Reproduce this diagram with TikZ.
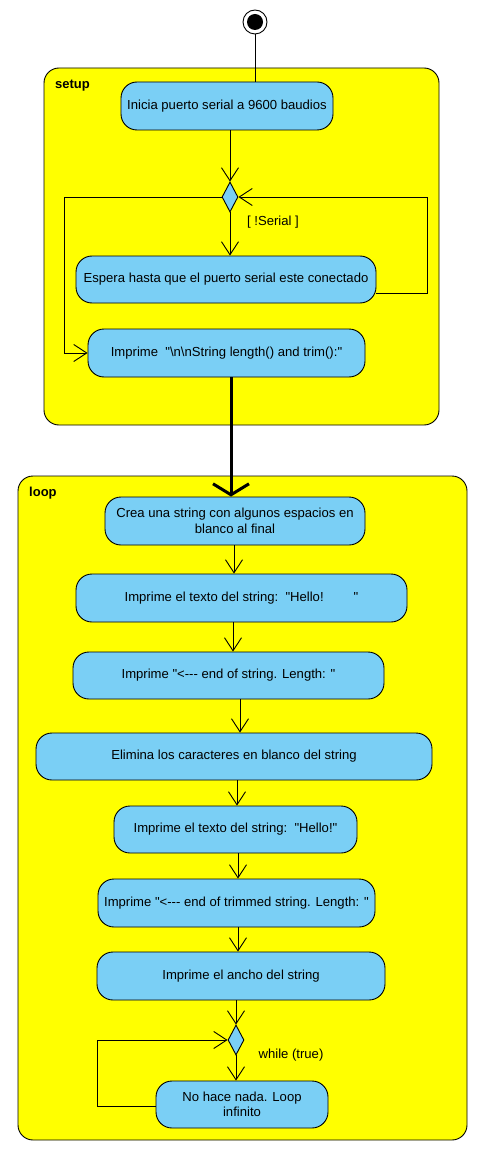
\documentclass[tikz,border=0pt]{standalone}
\usepackage{fontspec}
\setmainfont{Liberation Sans}[Ligatures=TeXOff]
\usetikzlibrary{arrows.meta,shapes.geometric}
\definecolor{actblue}{RGB}{122,207,245}
\definecolor{contyellow}{RGB}{255,255,0}
\tikzset{
  container/.style={draw=black, fill=contyellow, rounded corners=15pt, line width=0.9pt, inner sep=0pt},
  action/.style={draw=black, fill=actblue, rounded corners=16pt, line width=0.9pt, inner sep=0pt, align=center, font=\fontsize{13.1}{15.5}\selectfont},
  decision/.style={diamond, draw=black, fill=actblue, line width=0.9pt, inner sep=0pt, minimum width=16pt, minimum height=30pt},
  flow/.style={line width=0.9pt, -{Straight Barb[length=13pt,width=17pt,line width=0.9pt]}},
  plain/.style={line width=0.9pt},
  thickflow/.style={line width=3pt, -{Straight Barb[length=11pt,width=36pt,line width=3pt]}},
  guard/.style={font=\fontsize{13.1}{15.5}\selectfont, inner sep=0pt},
  title/.style={font=\fontsize{13}{15}\selectfont\bfseries, inner sep=0pt, anchor=west}
}
\begin{document}
\begin{tikzpicture}[x=1pt,y=-1pt]
\useasboundingbox[fill=white] (0,0) rectangle (482,1158);
% containers
\node[container, minimum width=395pt, minimum height=357pt] (setup) at (241.5,246.5) {};
\node[title] (setuplbl) at (55,86) {setup};
\node[container, minimum width=449pt, minimum height=664pt] (loop) at (242.5,808) {};
\node[title] (looplbl) at (29,493) {loop};
% initial node
\node[circle, draw=black, fill=white, line width=0.9pt, minimum size=24pt, inner sep=0pt] (init) at (255,22) {};
\fill[black] (init.center) circle (8pt);
% setup actions
\node[action, minimum width=212pt, minimum height=48pt] (a1) at (227,106) {Inicia puerto serial a 9600 baudios};
\node[decision] (d1) at (230,197) {};
\node[guard] (g1) at (273,222) {[ !Serial ]};
\node[action, minimum width=300pt, minimum height=47pt] (a2) at (226,279.5) {Espera hasta que el puerto serial este conectado};
\node[action, minimum width=277pt, minimum height=48pt] (a3) at (226.5,353) {Imprime\ \ "\textbackslash n\textbackslash nString length() and trim():"};
% loop actions
\node[action, minimum width=260pt, minimum height=48pt] (a4) at (235,521) {Crea una string con algunos espacios en\\blanco al final};
\node[action, minimum width=331pt, minimum height=48pt] (a5) at (241.5,598) {Imprime el texto del string:\ \ "Hello!\hspace{30pt}"};
\node[action, minimum width=311pt, minimum height=47pt] (a6) at (228.5,675.5) {Imprime "<--- end of string. Length: "};
\node[action, minimum width=396pt, minimum height=47pt] (a7) at (234,756.5) {Elimina los caracteres en blanco del string};
\node[action, minimum width=243pt, minimum height=47pt] (a8) at (235.5,829.5) {Imprime el texto del string:\ \ "Hello!"};
\node[action, minimum width=277pt, minimum height=48pt] (a9) at (236.5,903) {Imprime "<--- end of trimmed string. Length: "};
\node[action, minimum width=288pt, minimum height=48pt] (a10) at (241,976) {Imprime el ancho del string};
\node[decision] (d2) at (236,1040) {};
\node[guard] (g2) at (291,1055) {while (true)};
\node[action, minimum width=172pt, minimum height=47pt] (a11) at (242,1104.5) {No hace nada. Loop\\infinito};
% connectors setup
\draw[plain] (init.south) -- (init.south |- a1.north);
\draw[flow] (a1.south -| d1.north) -- (d1.north);
\draw[flow] (d1.south) -- (d1.south |- a2.north);
\coordinate (r1) at ([yshift=-13.5pt]a2.east);
\draw[flow] (r1) -- (427,293) -- (427,197) -- (d1.east);
\draw[flow] (d1.west) -- (64,197) -- (64,353) -- (a3.west);
\draw[thickflow] (a3.south -| 231,0) -- (a4.north -| 231,0);
% connectors loop
\draw[flow] (a4.south -| 234,0) -- (a5.north -| 234,0);
\draw[flow] (a5.south -| 233,0) -- (a6.north -| 233,0);
\draw[flow] (a6.south -| 240,0) -- (a7.north -| 240,0);
\draw[flow] (a7.south -| 237,0) -- (a8.north -| 237,0);
\draw[flow] (a8.south -| 238,0) -- (a9.north -| 238,0);
\draw[flow] (a9.south -| 238,0) -- (a10.north -| 238,0);
\draw[flow] (a10.south -| d2.north) -- (d2.north);
\draw[flow] (d2.south) -- (d2.south |- a11.north);
\coordinate (r2) at ([yshift=-1.5pt]a11.west);
\draw[flow] (r2) -- (97,1106) -- (97,1040) -- (d2.west);
\end{tikzpicture}
\end{document}
